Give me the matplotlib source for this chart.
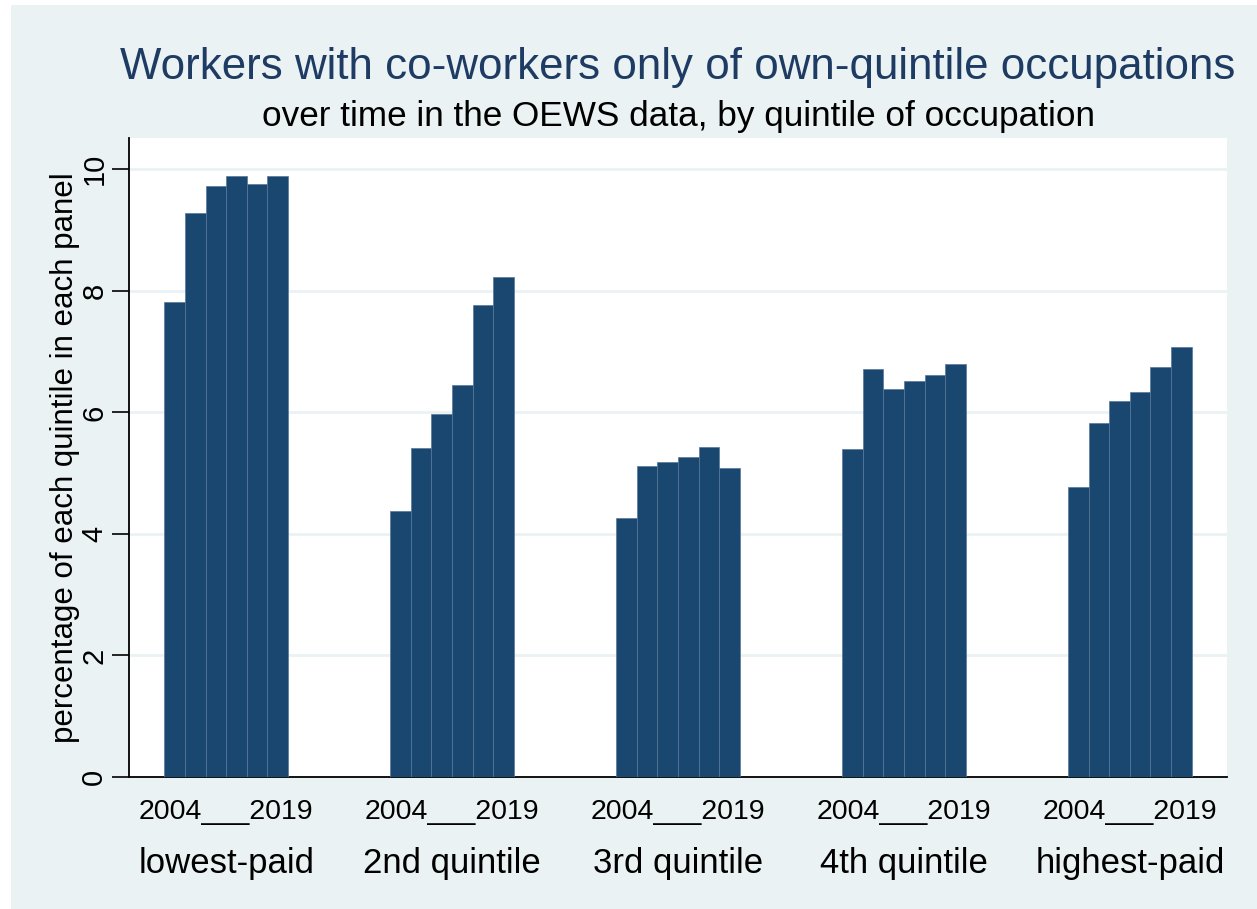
import numpy as np
import matplotlib
matplotlib.use("Agg")
import matplotlib.pyplot as plt
from matplotlib.patches import Rectangle
import matplotlib.transforms as mtransforms

plt.rcParams['font.family'] = ['Liberation Sans', 'DejaVu Sans']

# values, one list per quintile panel (2004 .. 2019, six bars each)
groups = ["lowest-paid", "2nd quintile", "3rd quintile", "4th quintile", "highest-paid"]
lowest_paid = [7.81, 9.28, 9.72, 9.89, 9.76, 9.89]
quintile_2 = [4.38, 5.42, 5.98, 6.45, 7.76, 8.22]
quintile_3 = [4.27, 5.11, 5.18, 5.27, 5.43, 5.09]
quintile_4 = [5.40, 6.71, 6.38, 6.51, 6.62, 6.79]
highest_paid = [4.78, 5.83, 6.19, 6.34, 6.74, 7.08]
year_label = "2004___2019"
yticks = [0, 2, 4, 6, 8, 10]

series = [lowest_paid, quintile_2, quintile_3, quintile_4, highest_paid]

bg = "#EAF2F3"
navy = "#1A476F"

W, H = 1257, 909
fig = plt.figure(figsize=(W / 100, H / 100), dpi=100)
fig.patches.append(Rectangle((11 / W, 0), 1, 1 - 5 / H, transform=fig.transFigure,
                             facecolor=bg, edgecolor="none", zorder=-10))

ax = fig.add_axes([129 / W, 1 - 777 / H, (1227 - 129) / W, (777 - 138) / H])
ax.set_facecolor("white")

bar_w = 0.0912
n = 6
for g, vals in enumerate(series):
    xs = g + (np.arange(n) - (n - 1) / 2) * bar_w
    ax.bar(xs, vals, width=bar_w, color=navy, edgecolor="#56789a", linewidth=0.5, zorder=3)

ax.set_xlim(-0.43, 4.43)
ax.set_ylim(0, 10.515)

ax.set_yticks(yticks)
ax.set_yticklabels([str(t) for t in yticks], rotation=90, fontsize=21, ha="center", va="center")
ax.tick_params(axis="y", length=12, width=1.2, pad=13, color="black")
ax.yaxis.grid(True, color=bg, linewidth=2.0)
ax.set_axisbelow(True)

ax.set_xticks(range(len(groups)))
ax.set_xticklabels([year_label] * len(groups), fontsize=20.5)
ax.tick_params(axis="x", length=0, pad=30.2)
for lbl in ax.get_xticklabels():
    lbl.set_va("baseline")

trans = mtransforms.blended_transform_factory(ax.transData, fig.transFigure)
for g, name in enumerate(groups):
    ax.text(g, 1 - 873 / H, name, transform=trans, ha="center", va="baseline", fontsize=25)

for s in ["top", "right"]:
    ax.spines[s].set_visible(False)
ax.spines["left"].set_linewidth(1.3)
ax.spines["bottom"].set_linewidth(1.3)

ax.set_ylabel("percentage of each quintile in each panel", fontsize=22.5)
ax.yaxis.set_label_coords(-0.0445, 0.5)

cx = (129 + 1227) / 2 / W
fig.text(cx, 1 - 79 / H, "Workers with co-workers only of own-quintile occupations",
         ha="center", va="baseline", fontsize=31.6, color="#1E3B63")
fig.text(cx, 1 - 126 / H, "over time in the OEWS data, by quintile of occupation",
         ha="center", va="baseline", fontsize=25.3, color="black")

fig.savefig("out.png", dpi=100)
